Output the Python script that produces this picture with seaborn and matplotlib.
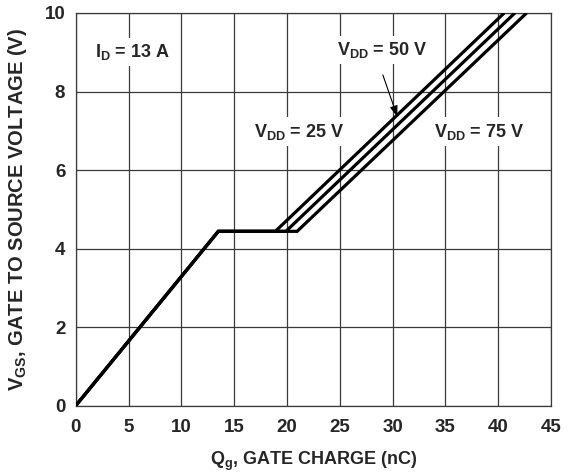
import pandas as pd
import numpy as np
import matplotlib
matplotlib.use("Agg")
import matplotlib.pyplot as plt
import seaborn as sns

# gate charge curves (nC, V)
vgs = [0.0, 4.44, 4.44, 10.0]
qg_25v = [0.0, 13.5, 18.9, 40.57]
qg_50v = [0.0, 13.5, 19.9, 41.58]
qg_75v = [0.0, 13.5, 20.96, 42.69]
vdd_labels = ["25 V", "50 V", "75 V"]

x_ticks = [0, 5, 10, 15, 20, 25, 30, 35, 40, 45]
y_ticks = [0, 2, 4, 6, 8, 10]

sns.set_theme(style="white")
plt.rcParams["font.family"] = ["Liberation Sans", "DejaVu Sans"]
plt.rcParams["font.weight"] = "bold"
plt.rcParams["mathtext.fontset"] = "custom"
plt.rcParams["mathtext.rm"] = "Liberation Sans:weight=bold"
plt.rcParams["mathtext.it"] = "Liberation Sans:weight=bold"
plt.rcParams["mathtext.bf"] = "Liberation Sans:weight=bold"
plt.rcParams["mathtext.default"] = "bf"

# long-form table for seaborn
frames = []
for lab, q in zip(vdd_labels, [qg_25v, qg_50v, qg_75v]):
    frames.append(pd.DataFrame({"qg": q, "vgs": vgs, "vdd": lab}))
df = pd.concat(frames, ignore_index=True)

fig = plt.figure(figsize=(5.71, 4.74), dpi=100)
ax = fig.add_axes([0.1326, 0.1441, 0.8324, 0.8285])

sns.lineplot(data=df, x="qg", y="vgs", hue="vdd", units="vdd", estimator=None,
             sort=False, palette=["black"] * 3, linewidth=2.3, legend=False, ax=ax,
             zorder=3)
for ln in ax.get_lines():
    ln.set_solid_capstyle("butt")
    ln.set_solid_joinstyle("miter")

ax.set_xlim(0, 45)
ax.set_ylim(0, 10)
ax.set_xticks(x_ticks)
ax.set_yticks(y_ticks)
ax.grid(True, color="#3a3a3a", linewidth=0.9)
for sp in ax.spines.values():
    sp.set_color("#3a3a3a")
    sp.set_linewidth(0.9)
ax.tick_params(axis="x", length=0, pad=9.5, labelsize=13.5)
ax.tick_params(axis="y", length=0, pad=7.5, labelsize=13.5)
for lbl in ax.get_xticklabels() + ax.get_yticklabels():
    lbl.set_fontweight("bold")

ax.set_xlabel(r"Q$_{g}$, GATE CHARGE (nC)", fontsize=13, fontweight="bold", labelpad=10)
ax.set_ylabel(r"V$_{GS}$, GATE TO SOURCE VOLTAGE (V)", fontsize=14.5,
              fontweight="bold", labelpad=11)

box = dict(facecolor="white", edgecolor="none", pad=3)
txt_kw = dict(fontsize=13, fontweight="bold", ha="left", va="center", zorder=2, bbox=box)
ax.text(1.83, 9.0, r"I$_{D}$ = 13 A", **txt_kw)
ax.text(16.9, 6.98, r"V$_{DD}$ = 25 V", **txt_kw)
ax.text(33.9, 6.98, r"V$_{DD}$ = 75 V", **txt_kw)
ax.annotate(r"V$_{DD}$ = 50 V", xy=(30.45, 7.36), xytext=(24.75, 9.05),
            fontsize=13, fontweight="bold", ha="left", va="center", zorder=2, bbox=box,
            arrowprops=dict(arrowstyle="-|>,head_length=0.5,head_width=0.18",
                            color="black", lw=0.8, shrinkA=8, shrinkB=0,
                            relpos=(0.45, 0.0)))

fig.savefig("out.png", dpi=100)
